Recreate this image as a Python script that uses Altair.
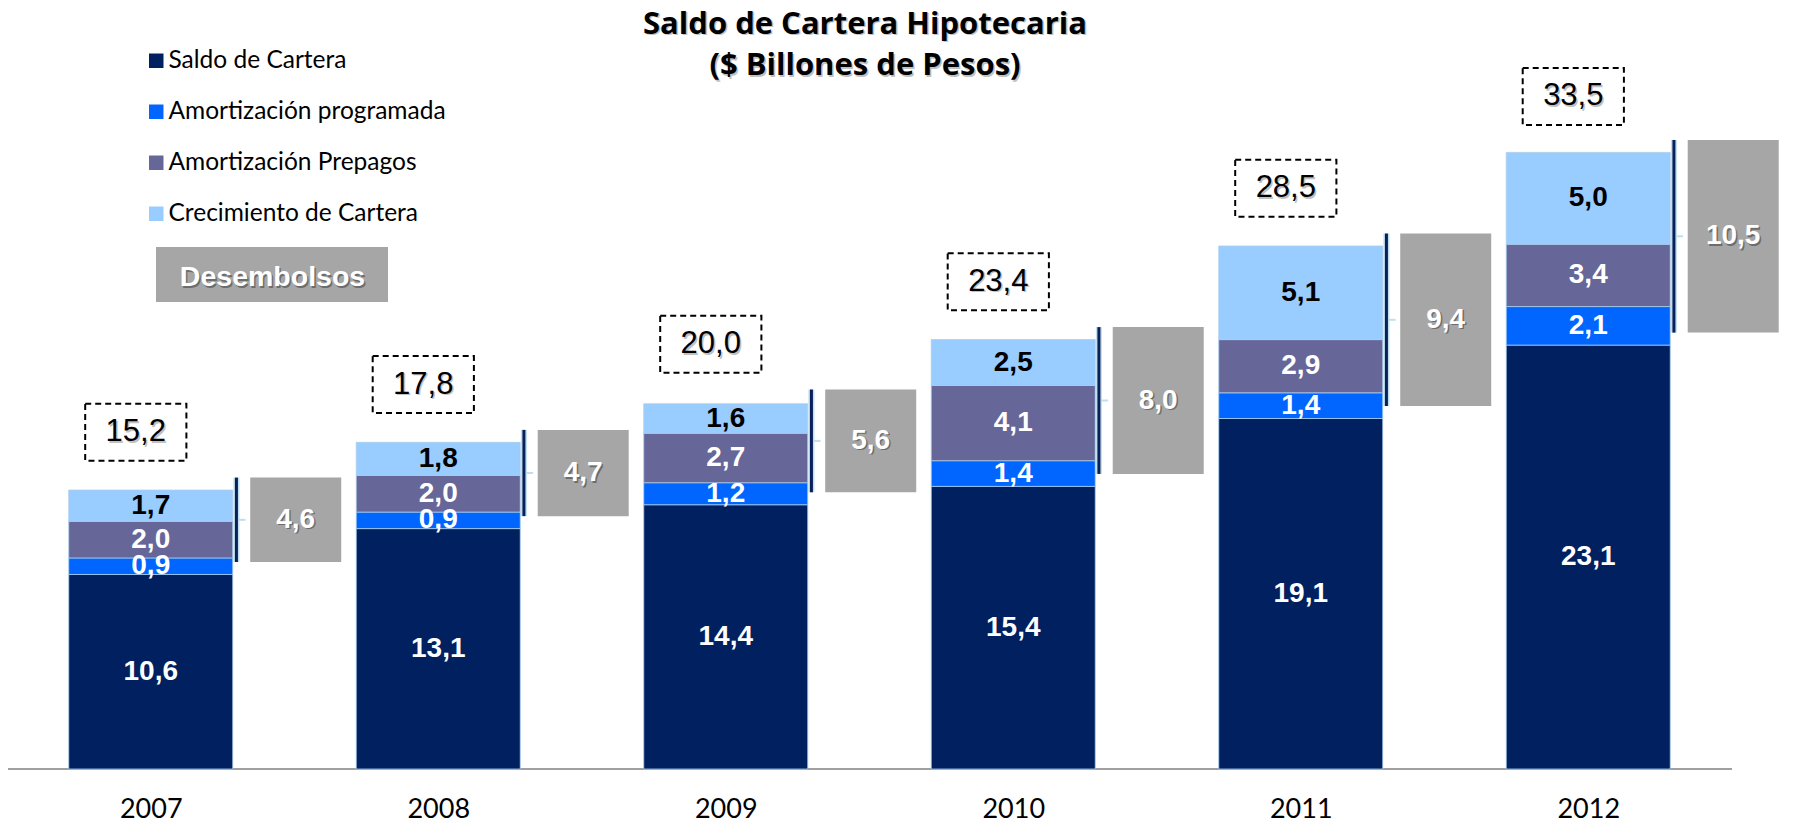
import altair as alt
import pandas as pd

# ---------------- data ----------------
years = [2007, 2008, 2009, 2010, 2011, 2012]
saldo = [10.6, 13.1, 14.4, 15.4, 19.1, 23.1]
amort_prog = [0.9, 0.9, 1.2, 1.4, 1.4, 2.1]
amort_prep = [2.0, 2.0, 2.7, 4.1, 2.9, 3.4]
crecimiento = [1.7, 1.8, 1.6, 2.5, 5.1, 5.0]
desembolsos = [4.6, 4.7, 5.6, 8.0, 9.4, 10.5]
totales = [15.2, 17.8, 20.0, 23.4, 28.5, 33.5]

series = ["Saldo de Cartera", "Amortización programada",
          "Amortización Prepagos", "Crecimiento de Cartera"]
colors = ["#002060", "#0066FF", "#666699", "#99CCFF"]

title_lines = ["Saldo de Cartera Hipotecaria", "($ Billones de Pesos)"]

# ---------------- tables built from the arrays ----------------
rows = []
for i, yr in enumerate(years):
    base = 0.0
    for name, vals in zip(series, [saldo, amort_prog, amort_prep, crecimiento]):
        v = vals[i]
        rows.append({"year": yr, "serie": name, "value": v,
                     "y0": base, "y1": base + v})
        base += v
stack = pd.DataFrame(rows)
summary = pd.DataFrame({"year": years, "saldo": saldo,
                        "desembolsos": desembolsos, "total": totales})

LBL = "replace(format({}, '.1f'), '.', ',')"

X = alt.Scale(domain=[2006.5035, 2012.5], nice=False, zero=False)
Y = alt.Scale(domain=[0, 41.47], nice=False, zero=True)

XAX = alt.Axis(values=years, format="d", ticks=False, grid=False,
               domain=False, labelFont="Lato",
               labelFontSize=27, labelColor="black", labelPadding=27,
               labelFlush=False, labelOverlap=False, labelBound=False,
               title=None)


def xq(field):
    return alt.X(field, type="quantitative", scale=X, axis=XAX, title=None)


def yq(field):
    return alt.Y(field, type="quantitative", scale=Y, axis=None)


GRAY = "#A6A6A6"
NAVY = "#0A1F5C"
CYAN = "#BFE0EA"

# baseline (category axis line) spanning the six year bands
baseline = alt.Chart(summary).transform_aggregate(
    lo="min(year)", hi="max(year)"
).transform_calculate(
    xa="datum.lo - 0.4965", xb="datum.hi + 0.5", y0="0"
).mark_rule(color="#A0A0A0", strokeWidth=2).encode(
    x=xq("xa"), x2="xb:Q", y=yq("y0"))

# stacked bars
bars = alt.Chart(stack).transform_calculate(
    xa="datum.year - 0.2852", xb="datum.year + 0.2852"
).mark_rect(stroke="#A9CDEB", strokeWidth=1, strokeOpacity=0.8).encode(
    x=xq("xa"), x2="xb:Q", y=yq("y0"), y2="y1:Q",
    color=alt.Color("serie:N", scale=alt.Scale(domain=series, range=colors),
                    legend=alt.Legend(title=None, orient="none", legendX=136,
                                      legendY=40.5, symbolType="square",
                                      symbolSize=210, symbolStrokeWidth=0,
                                      symbolOpacity=1, labelFont="Lato",
                                      labelFontSize=24.5, labelColor="black",
                                      labelLimit=0, rowPadding=26,
                                      labelOffset=0, padding=0)),
)

seg_text = alt.Chart(stack).transform_calculate(
    ym="(datum.y0 + datum.y1) / 2", lbl=LBL.format("datum.value")
).mark_text(font="Liberation Sans", fontWeight="bold", fontSize=28,
            baseline="middle", align="center").encode(
    x=xq("year"), y=yq("ym"), text="lbl:N",
    color=alt.condition(alt.datum.serie == "Crecimiento de Cartera",
                        alt.value("black"), alt.value("white")),
)

# desembolsos boxes
dbase = alt.Chart(summary).transform_calculate(
    ga="datum.year + 0.346", gb="datum.year + 0.6625",
    ya="datum.saldo + 0.68", yb="datum.saldo + 0.68 + datum.desembolsos",
    ym="datum.saldo + 0.68 + datum.desembolsos / 2",
    gx="datum.year + 0.504", lx="datum.year + 0.298",
    ta="datum.year + 0.306", tb="datum.year + 0.33",
    lbl=LBL.format("datum.desembolsos"),
)
gray_box = dbase.mark_rect(color=GRAY).encode(
    x=xq("ga"), x2="gb:Q", y=yq("ya"), y2="yb:Q")
halo = dbase.mark_rule(color=CYAN, strokeWidth=6).encode(
    x=xq("lx"), y=yq("ya"), y2="yb:Q")
dark = dbase.mark_rule(color=NAVY, strokeWidth=3).encode(
    x=xq("lx"), y=yq("ya"), y2="yb:Q")
stub = dbase.mark_rule(color=CYAN, strokeWidth=2).encode(
    x=xq("ta"), x2="tb:Q", y=yq("ym"))
gray_shadow = dbase.mark_text(font="Liberation Sans", fontWeight="bold",
                              fontSize=28, baseline="middle", align="center",
                              color="#555555", dx=1.5, dy=1.5, opacity=0.7).encode(
    x=xq("gx"), y=yq("ym"), text="lbl:N")
gray_text = dbase.mark_text(font="Liberation Sans", fontWeight="bold",
                            fontSize=28, baseline="middle", align="center",
                            color="white").encode(
    x=xq("gx"), y=yq("ym"), text="lbl:N")

# dashed total boxes
tbase = alt.Chart(summary).transform_calculate(
    ba="datum.year - 0.228", bb="datum.year + 0.124",
    ya="datum.total + 1.6", yb="datum.total + 4.7",
    tx="datum.year - 0.052", ty="datum.total + 3.15",
    lbl=LBL.format("datum.total"),
)
tot_box = tbase.mark_rect(fillOpacity=0, stroke="black", strokeWidth=2,
                          strokeDash=[6, 4]).encode(
    x=xq("ba"), x2="bb:Q", y=yq("ya"), y2="yb:Q")
tot_shadow = tbase.mark_text(font="Liberation Sans", fontSize=31,
                             baseline="middle", align="center",
                             color="#999999", dx=1.5, dy=1.5, opacity=0.6).encode(
    x=xq("tx"), y=yq("ty"), text="lbl:N")
tot_text = tbase.mark_text(font="Liberation Sans", fontSize=31,
                           baseline="middle", align="center",
                           color="black").encode(
    x=xq("tx"), y=yq("ty"), text="lbl:N")

# "Desembolsos" legend key
key_df = pd.DataFrame({"k": ["Desembolsos"]})
key_box = alt.Chart(key_df).mark_rect(color=GRAY).encode(
    x=alt.value(148), x2=alt.value(380), y=alt.value(239), y2=alt.value(294))
key_shadow = alt.Chart(key_df).mark_text(
    font="Liberation Sans", fontWeight="bold", fontSize=28.5, baseline="middle",
    align="center", color="#555555", dx=1.5, dy=1.5, opacity=0.7).encode(
    x=alt.value(264.5), y=alt.value(269), text="k:N")
key_text = alt.Chart(key_df).mark_text(
    font="Liberation Sans", fontWeight="bold", fontSize=28.5, baseline="middle",
    align="center", color="white").encode(
    x=alt.value(264.5), y=alt.value(269), text="k:N")

# title (two lines)
t_df = pd.DataFrame({"t1": [title_lines[0]], "t2": [title_lines[1]]})
title_kw = dict(font="Open Sans", fontWeight="bold", fontSize=31,
                baseline="alphabetic", align="center")
t1_sh = alt.Chart(t_df).mark_text(color="#999999", dx=1.5, dy=1.5,
                                  opacity=0.6, **title_kw).encode(
    x=alt.value(857), y=alt.value(25.5), text="t1:N")
t1 = alt.Chart(t_df).mark_text(color="black", **title_kw).encode(
    x=alt.value(857), y=alt.value(25.5), text="t1:N")
t2_sh = alt.Chart(t_df).mark_text(color="#999999", dx=1.5, dy=1.5,
                                  opacity=0.6, **title_kw).encode(
    x=alt.value(857), y=alt.value(67), text="t2:N")
t2 = alt.Chart(t_df).mark_text(color="black", **title_kw).encode(
    x=alt.value(857), y=alt.value(67), text="t2:N")

chart = alt.layer(
    baseline, bars, seg_text, gray_box, halo, dark, stub, gray_shadow,
    gray_text, tot_box, tot_shadow, tot_text, key_box, key_shadow, key_text,
    t1_sh, t1, t2_sh, t2,
).properties(
    width=1724, height=761,
    padding={"left": 0, "top": 0, "right": 60, "bottom": 55},
    autosize=alt.AutoSizeParams(type="none"),
).configure_view(stroke=None)

chart.save("out.html", embed_options={"renderer": "svg", "actions": False})
